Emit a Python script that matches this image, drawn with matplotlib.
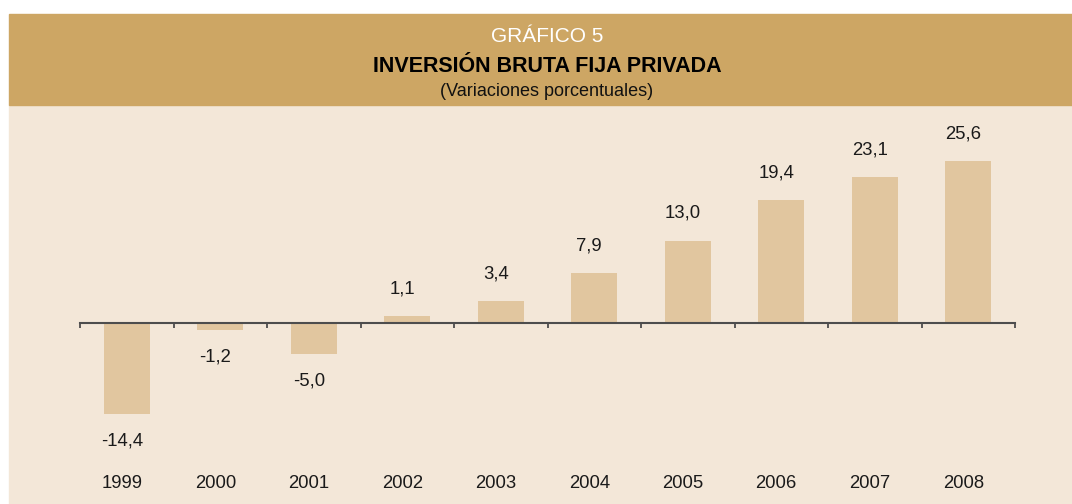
import matplotlib
matplotlib.use("Agg")
import matplotlib.pyplot as plt
from matplotlib.patches import Rectangle

plt.rcParams['font.family'] = ['Liberation Sans', 'DejaVu Sans']

# data
years = ['1999', '2000', '2001', '2002', '2003', '2004', '2005', '2006', '2007', '2008']
values = [-14.4, -1.2, -5.0, 1.1, 3.4, 7.9, 13.0, 19.4, 23.1, 25.6]
labels = ['-14,4', '-1,2', '-5,0', '1,1', '3,4', '7,9', '13,0', '19,4', '23,1', '25,6']

W, H = 1072, 504
fig = plt.figure(figsize=(W / 100, H / 100), dpi=100, facecolor='white')

# backgrounds
fig.patches.append(Rectangle((9 / W, 0), 1 - 9 / W, (H - 105) / H,
                             transform=fig.transFigure, color='#F3E7D8', zorder=-2))
fig.patches.append(Rectangle((9 / W, (H - 105) / H), 1 - 9 / W, 91 / H,
                             transform=fig.transFigure, color='#CDA664', zorder=-2))

# titles
cx = 547 / W
fig.text(cx, 1 - 36 / H, 'GRÁFICO 5', color='white', fontsize=15,
         ha='center', va='center')
fig.text(cx, 1 - 66.5 / H, 'INVERSIÓN BRUTA FIJA PRIVADA', color='black',
         fontsize=15.5, fontweight='bold', ha='center', va='center')
fig.text(cx, 1 - 91 / H, '(Variaciones porcentuales)', color='#111111',
         fontsize=13, ha='center', va='center')

ax = fig.add_axes([80 / W, 0, 935 / W, (H - 105) / H])
ax.patch.set_alpha(0)

x = list(range(len(years)))
ax.bar(x, values, width=0.49, color='#E1C69F', zorder=2)

ax.set_xlim(-0.5, 9.5)
ax.set_ylim(-28.69, 34.45)

for s in ['top', 'right', 'left']:
    ax.spines[s].set_visible(False)
ax.spines['bottom'].set_position(('data', 0))
ax.spines['bottom'].set_color('#4d4d4d')
ax.spines['bottom'].set_linewidth(1.5)
ax.spines['bottom'].set_zorder(3)
ax.set_yticks([])
ax.set_xticks([i - 0.5 for i in range(len(years) + 1)])
ax.set_xticklabels([])
ax.tick_params(axis='x', direction='out', length=3.8, width=1.3, color='#4d4d4d')

# value labels (sit a little left of the bar centres, as in the original)
for xi, v, lab in zip(x, values, labels):
    off = 19.5 if v >= 0 else -19.5
    ax.annotate(lab, (xi, v), xytext=(-3.6, off), textcoords='offset points',
                ha='center', va='center', fontsize=13.3, color='#1a1a1a')

# year labels
for xi, yr in zip(x, years):
    ax.annotate(yr, (xi, 21 / (H - 105)), xycoords=('data', 'axes fraction'),
                xytext=(-3.6, 0), textcoords='offset points',
                ha='center', va='center', fontsize=13.3, color='#1a1a1a')

fig.savefig('out.png', dpi=100, facecolor='white')
